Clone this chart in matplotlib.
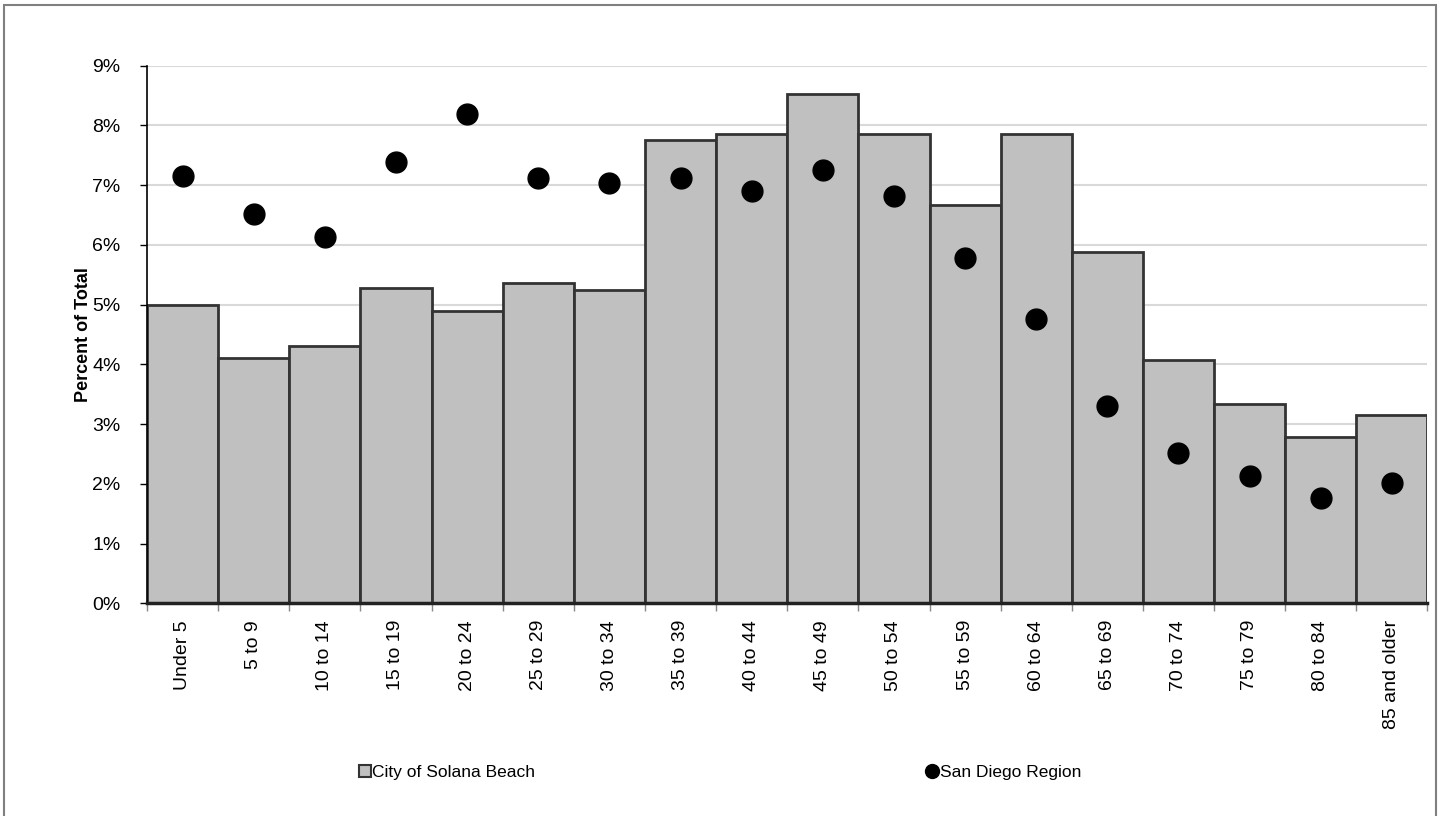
import matplotlib
matplotlib.use("Agg")
import matplotlib.pyplot as plt
from matplotlib import font_manager
from matplotlib.lines import Line2D
from matplotlib.patches import Patch, Rectangle
from matplotlib.ticker import FixedLocator, FuncFormatter
import numpy as np

# Age groups
AGE_GROUPS = [
    "Under 5", "5 to 9", "10 to 14", "15 to 19", "20 to 24", "25 to 29",
    "30 to 34", "35 to 39", "40 to 44", "45 to 49", "50 to 54", "55 to 59",
    "60 to 64", "65 to 69", "70 to 74", "75 to 79", "80 to 84", "85 and older",
]

# Percent of total population
SOLANA_BEACH = [5.0, 4.1, 4.31, 5.27, 4.9, 5.37, 5.25, 7.75, 7.86, 8.52,
                7.85, 6.66, 7.85, 5.88, 4.08, 3.34, 2.78, 3.16]
SAN_DIEGO = [7.16, 6.51, 6.14, 7.38, 8.19, 7.12, 7.04, 7.12, 6.9, 7.26,
             6.82, 5.78, 4.76, 3.3, 2.52, 2.13, 1.77, 2.01]

Y_TICKS = [0, 1, 2, 3, 4, 5, 6, 7, 8, 9]

plt.rcParams["font.family"] = ["Liberation Sans", "DejaVu Sans"]

installed = {f.name for f in font_manager.fontManager.ttflist}
legend_family = "Liberation Sans Narrow" if "Liberation Sans Narrow" in installed else "Liberation Sans"

fig = plt.figure(figsize=(14.4, 8.16), dpi=100)
ax = fig.add_axes([0.1021, 0.2607, 0.8892, 0.6588])

x = np.arange(len(AGE_GROUPS))
ax.bar(x, SOLANA_BEACH, width=1.0, color="#c0c0c0", edgecolor="#333333",
       linewidth=2, zorder=2)
ax.plot(x, SAN_DIEGO, "o", color="black", markersize=15, zorder=3)

ax.set_xlim(-0.5, len(AGE_GROUPS) - 0.5)
ax.set_ylim(0, 9)

# y axis
ax.yaxis.set_major_locator(FixedLocator(Y_TICKS))
ax.yaxis.set_major_formatter(FuncFormatter(lambda v, _: f"{v:.0f}%"))
ax.grid(axis="y", color="#d9d9d9", linewidth=1.5, zorder=0)
ax.set_axisbelow(True)
ax.tick_params(axis="y", direction="out", length=5, width=1, color="black",
               labelsize=14, pad=14)
ax.set_ylabel("Percent of Total", fontsize=13, fontweight="bold", labelpad=0)

# x axis: labels at centers, ticks at boundaries
ax.set_xticks(x)
ax.set_xticklabels(AGE_GROUPS, rotation=90, fontsize=14, va="top")
ax.tick_params(axis="x", which="major", length=0, pad=12)
ax.set_xticks(np.arange(-0.5, len(AGE_GROUPS)), minor=True)
ax.tick_params(axis="x", which="minor", direction="out", length=6, width=1,
               color="#888888")

for side in ("top", "right"):
    ax.spines[side].set_visible(False)
ax.spines["left"].set_color("black")
ax.spines["left"].set_linewidth(1.2)
ax.spines["bottom"].set_color("#222222")
ax.spines["bottom"].set_linewidth(2.5)
ax.spines["bottom"].set_zorder(4)

handles = [
    Patch(facecolor="#c0c0c0", edgecolor="#333333", linewidth=1.5),
    Line2D([], [], marker="o", linestyle="none", color="black", markersize=10),
]
fig.legend(handles, ["City of Solana Beach", "San Diego Region"],
           loc="center", bbox_to_anchor=(0.5, 0.053), ncol=2, frameon=False,
           handlelength=0.7, handleheight=0.7, handletextpad=0.1,
           columnspacing=22.5, prop={"family": legend_family, "size": 12.5})

# chart border
fig.patches.append(Rectangle((0.003, -0.02), 0.994, 1.014, transform=fig.transFigure,
                             fill=False, edgecolor="#808080", linewidth=1.5))

fig.savefig("out.png", dpi=100)
